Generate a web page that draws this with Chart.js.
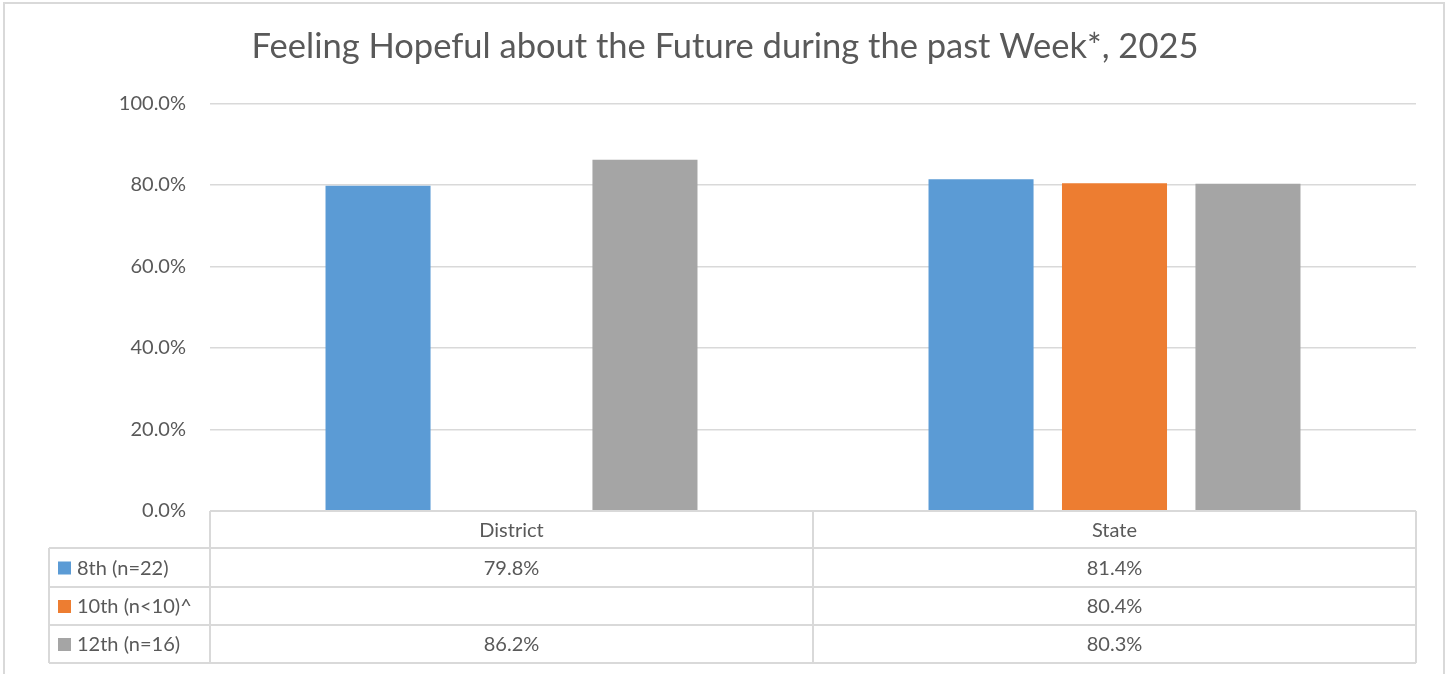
<!DOCTYPE html>
<html>
<head>
<meta charset="utf-8">
<script src="https://cdn.jsdelivr.net/npm/chart.js@4.4.1/dist/chart.umd.min.js"></script>
<style>
  html, body { margin: 0; padding: 0; background: #ffffff; }
  #wrap { width: 1450px; height: 674px; position: relative; }
</style>
</head>
<body>
<div id="wrap"><canvas id="chart" width="1450" height="674"></canvas></div>
<script>
// chart values
const categories = ['District', 'State'];
const seriesNames = ['8th (n=22)', '10th (n<10)^', '12th (n=16)'];
const grade8 = [79.8, 81.4];
const grade10 = [null, 80.4];
const grade12 = [86.2, 80.3];
const seriesColors = ['#5B9BD5', '#ED7D31', '#A5A5A5'];
const chartTitle = 'Feeling Hopeful about the Future during the past Week*, 2025';

const FONT = 'Lato';
const TEXT = '#595959';
const LINE = '#d9d9d9';

// draws the outer frame and the Excel style data table under the plot
const tablePlugin = {
  id: 'dataTable',
  afterDraw(chart) {
    const ctx = chart.ctx;
    const area = chart.chartArea;
    const x = chart.scales.x;
    const values = [grade8, grade10, grade12];

    ctx.save();
    ctx.strokeStyle = LINE;
    ctx.lineWidth = 2;
    // outer frame
    ctx.strokeRect(4, 3, 1440, 680);

    const rowTops = [area.bottom, 548, 587, 625, 663];
    const leftEdge = 49;
    const half = (x.getPixelForValue(1) - x.getPixelForValue(0)) / 2;
    const colEdges = [area.left];
    categories.forEach((c, i) => colEdges.push(x.getPixelForValue(i) + half));

    // horizontal lines
    ctx.beginPath();
    ctx.moveTo(area.left, rowTops[0]);
    ctx.lineTo(area.right, rowTops[0]);
    for (let r = 1; r < rowTops.length; r++) {
      ctx.moveTo(leftEdge, rowTops[r]);
      ctx.lineTo(area.right, rowTops[r]);
    }
    // vertical lines
    ctx.moveTo(leftEdge, rowTops[1]);
    ctx.lineTo(leftEdge, rowTops[4]);
    colEdges.forEach(ex => {
      ctx.moveTo(ex, rowTops[0]);
      ctx.lineTo(ex, rowTops[4]);
    });
    ctx.stroke();

    ctx.font = '20px ' + FONT;
    ctx.fillStyle = TEXT;
    ctx.textBaseline = 'middle';

    // header row
    ctx.textAlign = 'center';
    categories.forEach((c, i) => {
      ctx.fillText(c, x.getPixelForValue(i), (rowTops[0] + rowTops[1]) / 2 + 1);
    });

    // series rows
    seriesNames.forEach((name, s) => {
      const mid = (rowTops[s + 1] + rowTops[s + 2]) / 2 + 1;
      ctx.fillStyle = seriesColors[s];
      ctx.fillRect(58, mid - 7, 13, 13);
      ctx.fillStyle = TEXT;
      ctx.textAlign = 'left';
      ctx.fillText(name, 77, mid);
      ctx.textAlign = 'center';
      values[s].forEach((v, i) => {
        if (v !== null) ctx.fillText(v.toFixed(1) + '%', x.getPixelForValue(i), mid);
      });
    });
    ctx.restore();
  }
};

new Chart(document.getElementById('chart').getContext('2d'), {
  type: 'bar',
  data: {
    labels: categories,
    datasets: [
      { label: seriesNames[0], data: grade8, backgroundColor: seriesColors[0] },
      { label: seriesNames[1], data: grade10, backgroundColor: seriesColors[1] },
      { label: seriesNames[2], data: grade12, backgroundColor: seriesColors[2] }
    ]
  },
  options: {
    responsive: false,
    animation: false,
    categoryPercentage: 0.664,
    barPercentage: 0.787,
    layout: { padding: { left: 34, right: 34, top: 0, bottom: 163 } },
    scales: {
      x: {
        display: false
      },
      y: {
        min: 0,
        max: 100,
        ticks: {
          stepSize: 20,
          padding: 24,
          color: TEXT,
          font: { family: FONT, size: 20 },
          callback: v => v.toFixed(1) + '%'
        },
        grid: { color: LINE, lineWidth: 1.5, drawTicks: false },
        border: { display: false },
        afterFit(scale) { scale.width = 176; }
      }
    },
    plugins: {
      legend: { display: false },
      tooltip: { enabled: false },
      title: {
        display: true,
        text: chartTitle,
        color: TEXT,
        font: { family: FONT, size: 34.5, weight: 'normal' },
        padding: { top: 26, bottom: 36 }
      }
    }
  },
  plugins: [tablePlugin]
});
</script>
</body>
</html>
